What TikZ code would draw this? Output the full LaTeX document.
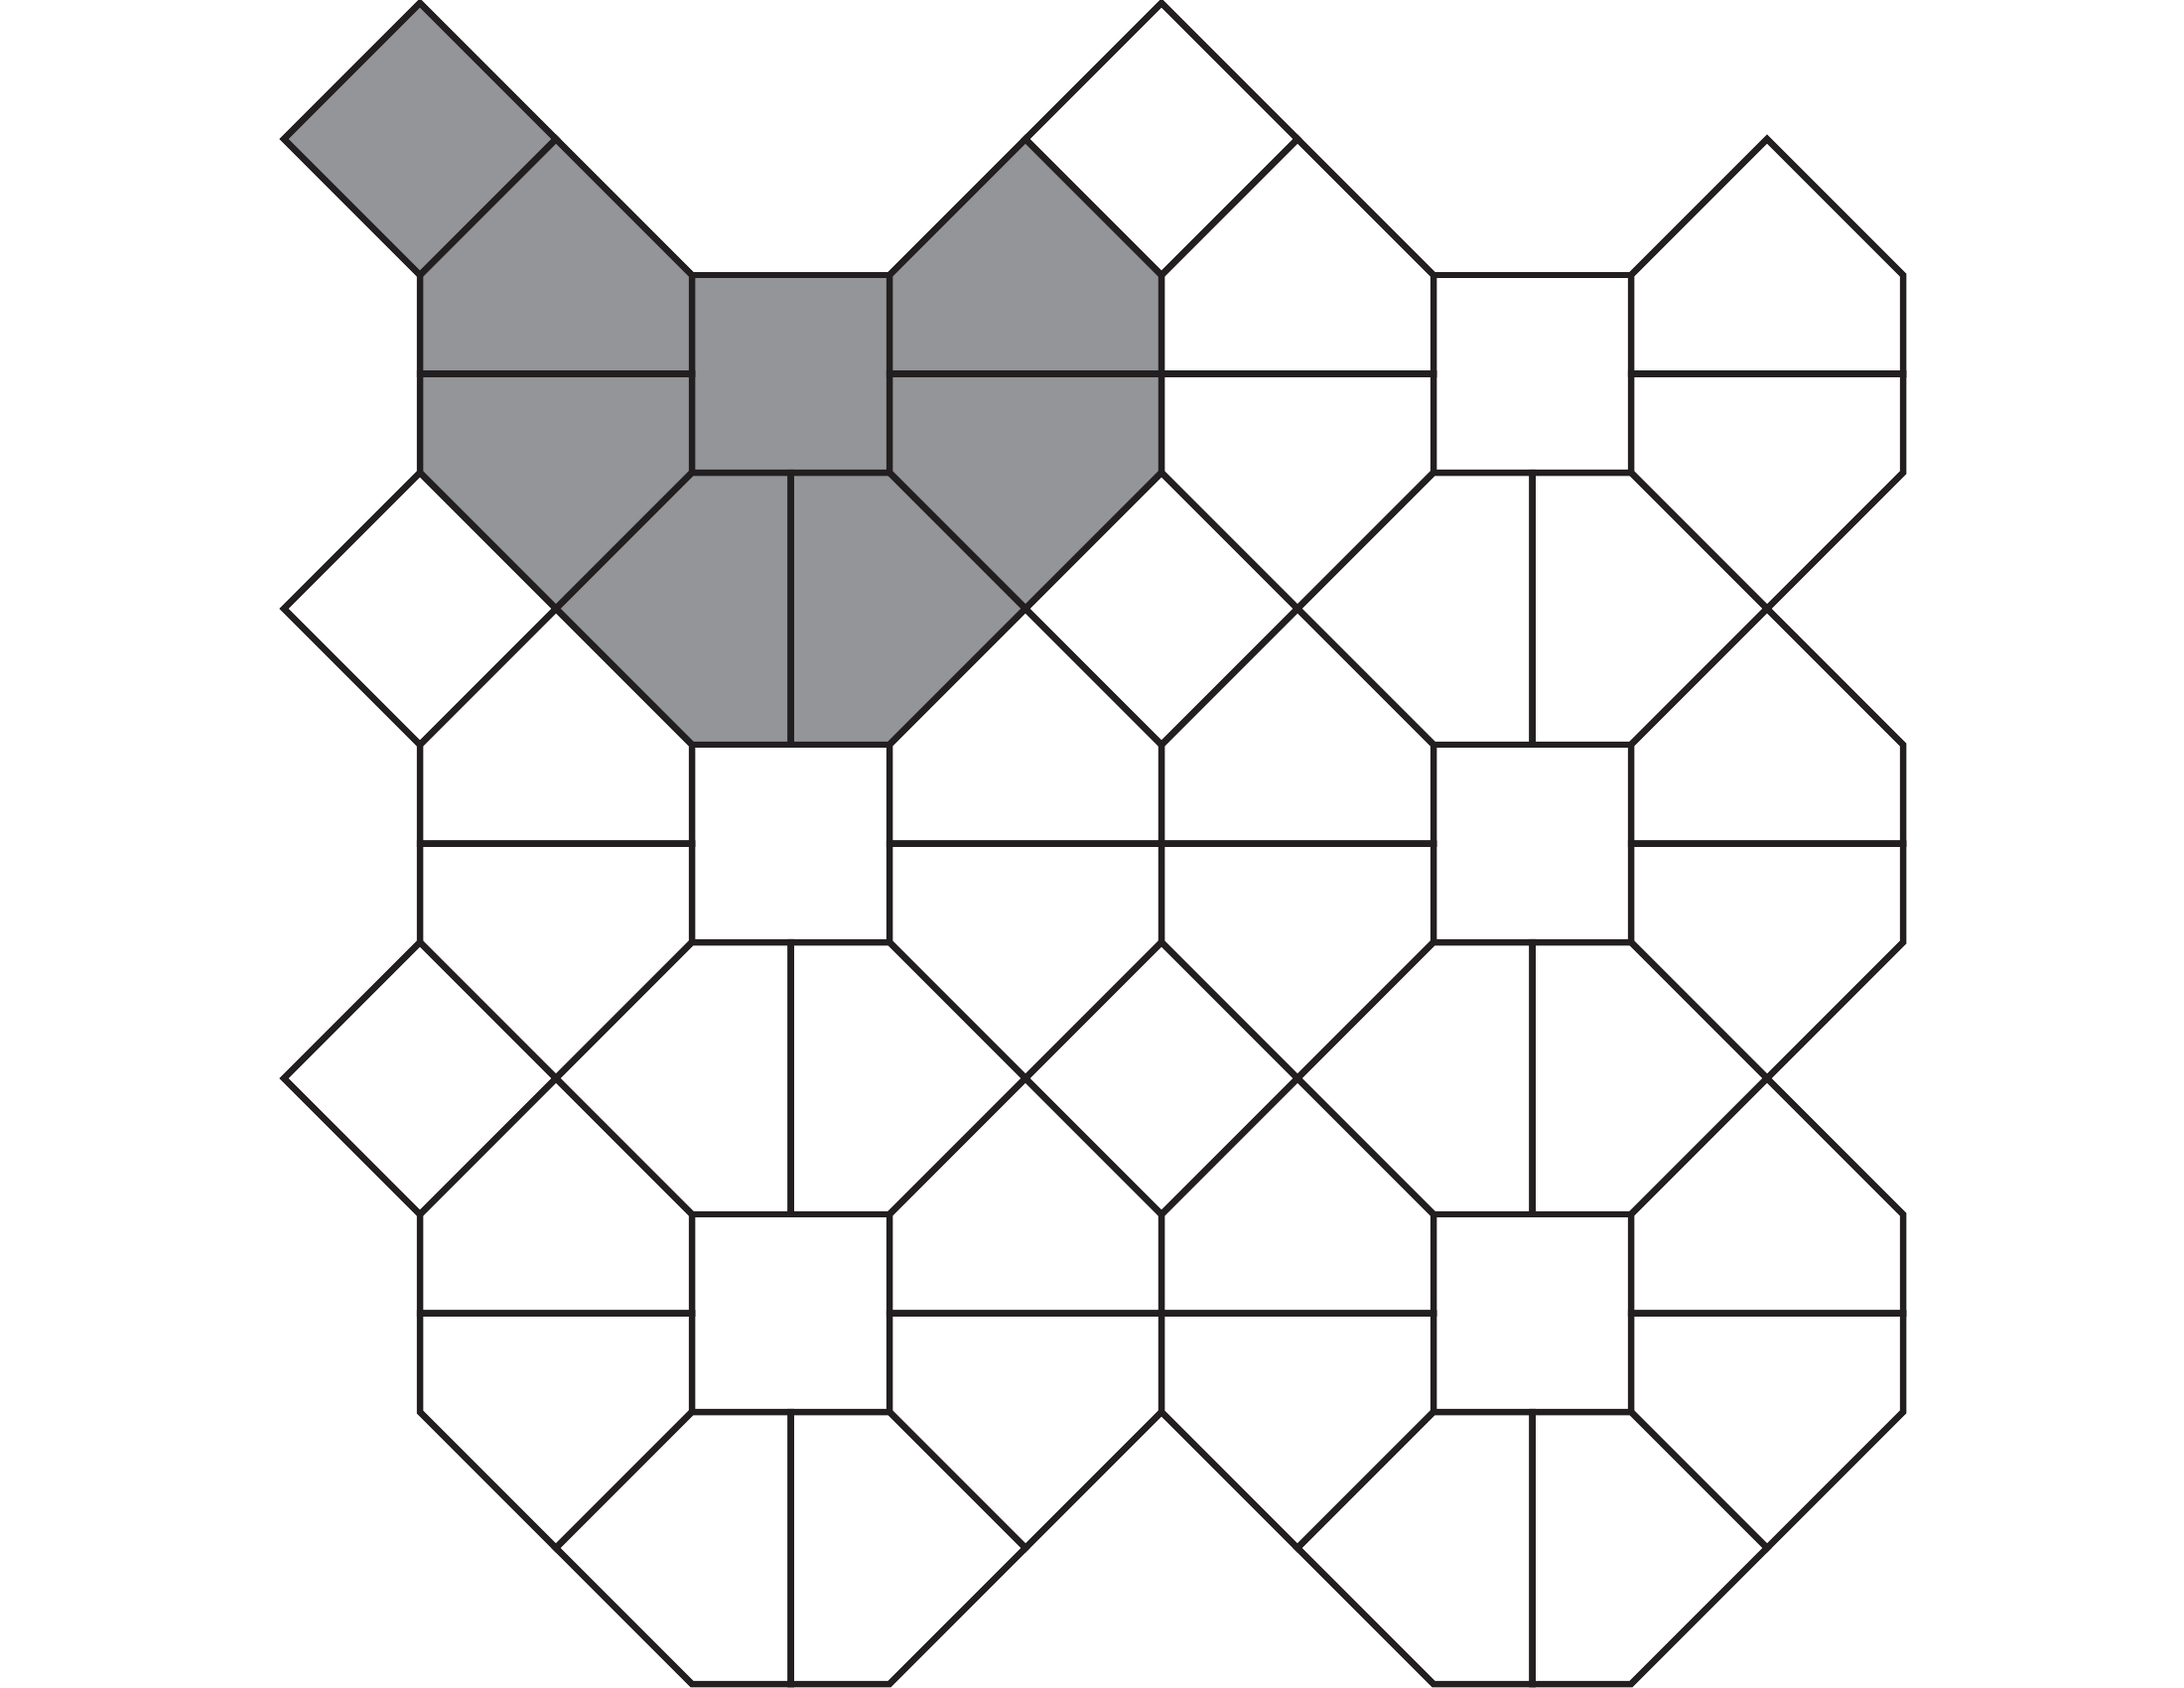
\documentclass[tikz,border=0pt]{standalone}
\definecolor{ink}{HTML}{231F20}
\definecolor{shade}{HTML}{939598}
\tikzset{tile/.style={draw=ink,line width=0.065cm,line join=miter,fill=#1},tile/.default=white}
\def\hh{137}
\def\ww{199}
\def\mm{99.5}
\newcommand\tilecell[3]{%
  \path[tile=#3] (#1,#2) rectangle ({#1+\ww},{#2+\ww});
  \path[tile=#3] ({#1-2*\hh},{#2+\mm}) -- ({#1-2*\hh},#2) -- ({#1-\hh},{#2-\hh}) -- (#1,#2) -- (#1,{#2+\mm}) -- cycle;
  \path[tile=#3] ({#1-2*\hh},{#2+\mm}) -- (#1,{#2+\mm}) -- (#1,{#2+\ww}) -- ({#1-\hh},{#2+\ww+\hh}) -- ({#1-2*\hh},{#2+\ww}) -- cycle;
  \path[tile=#3] ({#1+\ww},#2) -- ({#1+\ww+\hh},{#2-\hh}) -- ({#1+\ww+2*\hh},#2) -- ({#1+\ww+2*\hh},{#2+\mm}) -- ({#1+\ww},{#2+\mm}) -- cycle;
  \path[tile=#3] ({#1+\ww},{#2+\mm}) -- ({#1+\ww+2*\hh},{#2+\mm}) -- ({#1+\ww+2*\hh},{#2+\ww}) -- ({#1+\ww+\hh},{#2+\ww+\hh}) -- ({#1+\ww},{#2+\ww}) -- cycle;
  \path[tile=#3] (#1,{#2+\ww}) -- ({#1+\mm},{#2+\ww}) -- ({#1+\mm},{#2+\ww+2*\hh}) -- (#1,{#2+\ww+2*\hh}) -- ({#1-\hh},{#2+\ww+\hh}) -- cycle;
  \path[tile=#3] ({#1+\mm},{#2+\ww}) -- ({#1+\ww},{#2+\ww}) -- ({#1+\ww+\hh},{#2+\ww+\hh}) -- ({#1+\ww},{#2+\ww+2*\hh}) -- ({#1+\mm},{#2+\ww+2*\hh}) -- cycle;
}
\newcommand\tilediamond[3]{%
  \path[tile=#3] ({#1-\hh},#2) -- (#1,{#2-\hh}) -- ({#1+\hh},#2) -- (#1,{#2+\hh}) -- cycle;
}
\begin{document}
\begin{tikzpicture}[x=0.01cm,y=-0.01cm]
\useasboundingbox (0,0) rectangle (2200,1700);
\tilecell{697}{277}{shade}
\tilecell{1444}{277}{white}
\tilecell{697}{750}{white}
\tilecell{1444}{750}{white}
\tilecell{697}{1223}{white}
\tilecell{1444}{1223}{white}
\tilediamond{423}{140}{shade}
\tilediamond{1170}{140}{white}
\tilediamond{423}{613}{white}
\tilediamond{1170}{613}{white}
\tilediamond{423}{1086}{white}
\tilediamond{1170}{1086}{white}
\end{tikzpicture}
\end{document}
